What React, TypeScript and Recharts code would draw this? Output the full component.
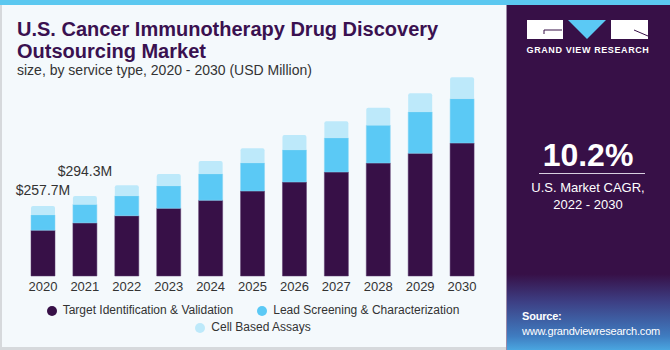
import React from "react";
import { BarChart, Bar, XAxis, YAxis, LabelList } from "recharts";

// Данные по годам (USD Million)
const years = ["2020", "2021", "2022", "2023", "2024", "2025", "2026", "2027", "2028", "2029", "2030"];
const targetValidation = [168.5, 195.5, 221.9, 249.1, 278.6, 312.8, 345.9, 382.7, 415.8, 451.5, 489.4];
const leadScreening = [56.2, 67.8, 72.5, 82.1, 96.8, 103.0, 117.8, 125.1, 138.7, 152.0, 163.0];
const cellAssays = [33.0, 31.0, 39.4, 44.2, 47.8, 54.1, 55.2, 61.5, 64.8, 68.8, 78.8];
const labelledTotals = ["$257.7M", "$294.3M"];

const series = [
  { key: "target", name: "Target Identification & Validation", color: "#371047" },
  { key: "lead", name: "Lead Screening & Characterization", color: "#5bc9f5" },
  { key: "cell", name: "Cell Based Assays", color: "#bde9fa" },
];

const data = years.map((year, i) => ({
  year,
  target: targetValidation[i],
  lead: leadScreening[i],
  cell: cellAssays[i],
}));

const font = "'Liberation Sans', Arial, sans-serif";

// Подписи над первыми двумя столбцами
const TotalLabel = (props: any) => {
  const { x, y, width, index } = props;
  if (index > 1) return null;
  const offset = index === 0 ? 15 : 24;
  return (
    <text
      x={x + width / 2}
      y={y - offset}
      textAnchor="middle"
      dominantBaseline="middle"
      fontSize={14}
      fill="#333"
      fontFamily={font}
    >
      {labelledTotals[index]}
    </text>
  );
};

const Logo = () => (
  <svg width={122} height={20} style={{ position: "absolute", left: 527, top: 20 }}>
    <rect x={0} y={0} width={36} height={19} fill="#fff" />
    <polyline points="35,10 17,10 17,14" stroke="#371047" strokeWidth={1} fill="none" />
    <polygon points="41,0 79,0 60,19" fill="#5bc9f5" />
    <rect x={84} y={0} width={37} height={19} fill="#fff" />
    <line x1={107} y1={10} x2={121} y2={16} stroke="#371047" strokeWidth={1} />
  </svg>
);

const App: React.FC = () => {
  return (
    <div
      style={{
        position: "fixed",
        left: 0,
        top: 0,
        width: 670,
        height: 350,
        background: "#f4f9fc",
        fontFamily: font,
        overflow: "hidden",
      }}
    >
      {/* верхняя полоса */}
      <div style={{ position: "absolute", left: 0, top: 0, width: 670, height: 5, background: "#5bc8f0" }} />
      <div style={{ position: "absolute", left: 0, top: 5, width: 2, height: 345, background: "#d6d9dc" }} />
      <div style={{ position: "absolute", left: 0, top: 347, width: 506, height: 3, background: "#d6d9dc" }} />

      <div
        style={{
          position: "absolute",
          left: 17,
          top: 17.5,
          fontSize: 20,
          fontWeight: 700,
          lineHeight: "22px",
          color: "#3a1150",
          whiteSpace: "nowrap",
        }}
      >
        U.S. Cancer Immunotherapy Drug Discovery
        <br />
        Outsourcing Market
      </div>
      <div style={{ position: "absolute", left: 17, top: 62, fontSize: 14, color: "#333", whiteSpace: "nowrap" }}>
        size, by service type, 2020 - 2030 (USD Million)
      </div>

      <div style={{ position: "absolute", left: 0, top: 0 }}>
        <BarChart width={506} height={350} data={data} margin={{ top: 58.6, right: 23, bottom: 44, left: 22 }}>
          <XAxis
            dataKey="year"
            axisLine={false}
            tickLine={false}
            height={30}
            tickMargin={0}
            tick={{ fontSize: 13, fill: "#333", fontFamily: font }}
            interval={0}
          />
          <YAxis hide domain={[0, 800]} />
          <Bar dataKey="target" stackId="a" fill={series[0].color} barSize={24} stroke="#5a3a6e" strokeWidth={0.5} isAnimationActive={false} />
          <Bar dataKey="lead" stackId="a" fill={series[1].color} barSize={24} stroke="#8ad6f5" strokeWidth={0.5} isAnimationActive={false} />
          <Bar dataKey="cell" stackId="a" fill={series[2].color} barSize={24} radius={[2, 2, 0, 0]} isAnimationActive={false}>
            <LabelList dataKey="cell" content={TotalLabel} />
          </Bar>
        </BarChart>
      </div>

      {/* легенда */}
      <div
        style={{
          position: "absolute",
          left: 0,
          top: 303,
          width: 506,
          display: "flex",
          flexWrap: "wrap",
          justifyContent: "center",
          fontSize: 12,
          color: "#333",
          rowGap: 2,
        }}
      >
        {series.map((s, i) => (
          <div
            key={s.key}
            style={{
              display: "flex",
              alignItems: "center",
              marginRight: i === 0 ? 24 : 0,
              width: i === 2 ? "100%" : undefined,
              justifyContent: "center",
              lineHeight: "15px",
            }}
          >
            <span
              style={{ width: 10, height: 10, borderRadius: 5, background: s.color, marginRight: 6, display: "inline-block" }}
            />
            {s.name}
          </div>
        ))}
      </div>

      {/* правая панель */}
      <div
        style={{
          position: "absolute",
          left: 506,
          top: 5,
          width: 164,
          height: 345,
          background: "linear-gradient(180deg, #371047 0%, #371047 78%, #3d3f84 86%, #3f7cc0 96%, #4aa6e0 100%)",
          borderLeft: "1px solid #9b8aa8",
        }}
      />
      <Logo />
      <div
        style={{
          position: "absolute",
          left: 506,
          top: 45,
          width: 164,
          textAlign: "center",
          color: "#fff",
          fontSize: 9,
          fontWeight: 700,
          letterSpacing: 0.6,
          whiteSpace: "nowrap",
        }}
      >
        GRAND VIEW RESEARCH
      </div>
      <div
        style={{
          position: "absolute",
          left: 506,
          top: 137,
          width: 164,
          textAlign: "center",
          color: "#fff",
          fontSize: 32,
          fontWeight: 700,
        }}
      >
        10.2%
      </div>
      <div style={{ position: "absolute", left: 539, top: 173, width: 106, height: 1, background: "#d8cfe0" }} />
      <div
        style={{
          position: "absolute",
          left: 506,
          top: 179,
          width: 164,
          textAlign: "center",
          color: "#fff",
          fontSize: 13,
          lineHeight: "17px",
        }}
      >
        U.S. Market CAGR,
        <br />
        2022 - 2030
      </div>
      <div
        style={{
          position: "absolute",
          left: 522,
          top: 309,
          color: "#fff",
          fontSize: 11,
          letterSpacing: -0.2,
          lineHeight: "15px",
          whiteSpace: "nowrap",
        }}
      >
        <b>Source:</b>
        <br />
        www.grandviewresearch.com
      </div>
    </div>
  );
};

export default App;
